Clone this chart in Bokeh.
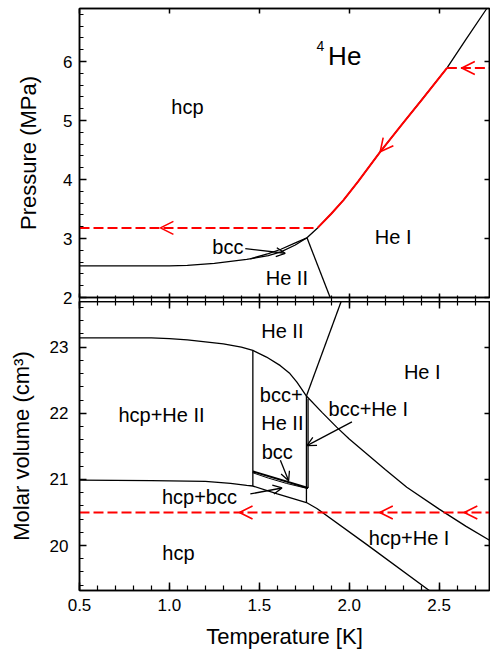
from bokeh.plotting import figure
from bokeh.models import Range1d, LinearAxis, FixedTicker, Arrow, OpenHead, PrintfTickFormatter
from bokeh.layouts import column
from bokeh.embed import file_html
from bokeh.resources import INLINE
from bokeh.core.properties import value

FONT = "Liberation Sans"

# ---------------- axis data ----------------
T_RANGE = (0.5, 2.78)
P_RANGE = (2.0, 6.9)
V_RANGE = (19.32, 23.69)
t_major = [0.5, 1.0, 1.5, 2.0, 2.5]
t_minor = [round(0.5 + 0.1 * i, 1) for i in range(23)]
p_major = [2, 3, 4, 5, 6]
p_minor = [round(2 + 0.2 * i, 1) for i in range(25)]
v_major = [20, 21, 22, 23]
v_minor = [round(19.4 + 0.2 * i, 1) for i in range(22)]

# ---------------- top panel: P-T ----------------
melt_T = [0.5, 1.0, 1.1, 1.25, 1.43, 1.55, 1.62, 1.70, 1.765, 1.824, 1.9, 1.968,
          2.05, 2.172, 2.3, 2.4, 2.543, 2.65, 2.765]
melt_P = [2.536, 2.537, 2.545, 2.577, 2.645, 2.71, 2.775, 2.89, 3.012, 3.18, 3.42, 3.65,
          3.97, 4.47, 4.96, 5.34, 5.89, 6.38, 6.9]
hcpbcc_T = [1.45, 1.55, 1.62, 1.70, 1.765]
hcpbcc_P = [2.656, 2.745, 2.818, 2.925, 3.012]
lam_top_T = [1.765, 1.894]
lam_top_P = [3.012, 2.0]
red_path_T = [1.824, 1.9, 1.968, 2.05, 2.172, 2.3, 2.4, 2.543]
red_path_P = [3.18, 3.42, 3.65, 3.97, 4.47, 4.96, 5.34, 5.89]
red_dash1_T = [0.5, 1.824]
red_dash1_P = [3.18, 3.18]
red_dash2_T = [2.543, 2.78]
red_dash2_P = [5.89, 5.89]

# ---------------- bottom panel: V-T ----------------
liq2_T = [0.5, 0.9, 1.0, 1.1, 1.2, 1.3, 1.4, 1.464, 1.54, 1.617, 1.67, 1.709, 1.762]
liq2_V = [23.14, 23.14, 23.13, 23.11, 23.08, 23.05, 23.00, 22.95, 22.85, 22.72, 22.60, 22.47, 22.26]
hcp_T = [0.5, 0.9, 1.2, 1.34, 1.43, 1.464, 1.6, 1.762, 1.82, 2.1, 2.445]
hcp_V = [20.99, 20.98, 20.97, 20.94, 20.91, 20.90, 20.78, 20.65, 20.56, 20.01, 19.32]
vert_T = [1.464, 1.762, 1.771]
vert_Vlow = [20.90, 20.65, 20.87]
vert_Vhigh = [22.95, 22.26, 22.22]
bccup_T = [1.464, 1.771]
bccup_V = [21.12, 20.87]
bcclow_T = [1.464, 1.55, 1.65, 1.771]
bcclow_V = [21.10, 21.02, 20.94, 20.86]
liq1_T = [1.762, 1.85, 1.93, 2.0, 2.1, 2.2, 2.32, 2.5, 2.65, 2.78]
liq1_V = [22.26, 22.01, 21.79, 21.61, 21.38, 21.15, 20.88, 20.55, 20.29, 20.08]
lam_bot_T = [1.762, 1.955]
lam_bot_V = [22.26, 23.69]
red_dash3_T = [0.5, 2.78]
red_dash3_V = [20.50, 20.50]
red_heads_bot_T = [1.39, 2.17, 2.64]


def base_fig(height, yr, mb_top, mb_bottom, transparent=False):
    fill = None if transparent else "white"
    p = figure(width=490, height=height, x_range=Range1d(*T_RANGE), y_range=Range1d(*yr),
               toolbar_location=None, output_backend="svg",
               min_border_left=79, min_border_right=1, min_border_top=mb_top,
               min_border_bottom=mb_bottom, outline_line_color="black",
               outline_line_width=1.5, background_fill_color=fill,
               border_fill_color=fill)
    p.grid.visible = False
    return p


def style(ax, labels, tin, tout, min_in, min_out, minor=True, size="17px", standoff=7):
    ax.axis_line_width = 1.5
    ax.axis_line_color = "black"
    ax.major_tick_line_width = 1.5
    ax.minor_tick_line_width = 1.2
    ax.major_tick_in = tin
    ax.major_tick_out = tout
    ax.minor_tick_in = min_in
    ax.minor_tick_out = min_out
    if not minor:
        ax.minor_tick_line_color = None
    if labels:
        ax.major_label_text_font = FONT
        ax.major_label_text_font_size = size
        ax.major_label_text_color = "black"
        ax.major_label_standoff = standoff
    else:
        ax.major_label_text_font_size = "0px"
        ax.major_label_text_color = None
        ax.major_label_standoff = 0
    ax.axis_label_text_font = FONT
    ax.axis_label_text_font_size = "22px"
    ax.axis_label_text_font_style = "normal"
    ax.axis_label_text_color = "black"


def red_head(p, x, y, xs, ys, size=13):
    p.add_layout(Arrow(end=OpenHead(size=size, line_color="red", line_width=1.6),
                       x_start=xs, y_start=ys, x_end=x, y_end=y, line_alpha=0))


def black_arrow(p, xs, ys, xe, ye):
    p.add_layout(Arrow(end=OpenHead(size=9, line_color="black", line_width=1.3),
                       x_start=xs, y_start=ys, x_end=xe, y_end=ye,
                       line_color="black", line_width=1.3))


def label(p, x, y, t, size="20px"):
    p.text(x=[x], y=[y], text=[t], text_font=value(FONT), text_font_size=size,
           text_align="center", text_baseline="middle", text_color="black")


# ================= top figure =================
p1 = base_fig(309, P_RANGE, 8, 12)
style(p1.xaxis[0], False, 4, 4, 2, 4)
p1.xaxis[0].ticker = FixedTicker(ticks=t_major, minor_ticks=t_minor)
style(p1.yaxis[0], True, 7, 0, 4, 0)
p1.yaxis[0].ticker = FixedTicker(ticks=p_major, minor_ticks=p_minor)
p1.yaxis[0].axis_label = "Pressure (MPa)"
p1.yaxis[0].axis_label_standoff = 19
top_ax = LinearAxis(ticker=FixedTicker(ticks=t_major))
style(top_ax, False, 5, 0, 0, 0, minor=False)
p1.add_layout(top_ax, "above")
right1 = LinearAxis(ticker=FixedTicker(ticks=p_major))
style(right1, False, 5, 0, 0, 0, minor=False)
p1.add_layout(right1, "right")

p1.line(melt_T, melt_P, line_color="black", line_width=1.3)
p1.line(hcpbcc_T, hcpbcc_P, line_color="black", line_width=1.3)
p1.line(lam_top_T, lam_top_P, line_color="black", line_width=1.3)
p1.line(red_path_T, red_path_P, line_color="red", line_width=2)
p1.line(red_dash1_T, red_dash1_P, line_color="red", line_width=2, line_dash="10 4")
p1.line(red_dash2_T, red_dash2_P, line_color="red", line_width=2, line_dash="10 4")
red_head(p1, 0.95, 3.18, 1.05, 3.18)
red_head(p1, 2.626, 5.89, 2.72, 5.89)
red_head(p1, red_path_T[4], red_path_P[4], red_path_T[5], red_path_P[5])
black_arrow(p1, 1.422, 2.83, 1.644, 2.75)

label(p1, 1.10, 5.23, "hcp")
label(p1, 1.975, 6.09, "He", "26px")
label(p1, 1.839, 6.27, "4", "14px")
label(p1, 2.244, 3.02, "He I")
label(p1, 1.653, 2.33, "He II")
label(p1, 1.325, 2.85, "bcc")

# ================= bottom figure =================
p2 = base_fig(355, V_RANGE, 0, 66, transparent=True)
p2.margin = (-8, 0, 0, 0)
style(p2.xaxis[0], True, 8, 0, 5, 0, standoff=8)
p2.xaxis[0].ticker = FixedTicker(ticks=t_major, minor_ticks=t_minor)
p2.xaxis[0].formatter = PrintfTickFormatter(format="%.1f")
p2.xaxis[0].axis_label = "Temperature [K]"
p2.xaxis[0].axis_label_standoff = 10
style(p2.yaxis[0], True, 7, 0, 4, 0, standoff=11)
p2.yaxis[0].ticker = FixedTicker(ticks=v_major, minor_ticks=v_minor)
p2.yaxis[0].axis_label = "Molar volume (cm³)"
p2.yaxis[0].axis_label_standoff = 13
top2 = LinearAxis(ticker=FixedTicker(ticks=t_major, minor_ticks=t_minor))
style(top2, False, 7, 0, 4, 0)
p2.add_layout(top2, "above")
right2 = LinearAxis(ticker=FixedTicker(ticks=v_major))
style(right2, False, 5, 0, 0, 0, minor=False)
p2.add_layout(right2, "right")

p2.line(liq2_T, liq2_V, line_color="black", line_width=1.3)
p2.line(hcp_T, hcp_V, line_color="black", line_width=1.3)
p2.segment(x0=vert_T, y0=vert_Vlow, x1=vert_T, y1=vert_Vhigh, line_color="black", line_width=1.3)
p2.line(bccup_T, bccup_V, line_color="black", line_width=2)
p2.line(bcclow_T, bcclow_V, line_color="black", line_width=1)
p2.line(liq1_T, liq1_V, line_color="black", line_width=1.3)
p2.line(lam_bot_T, lam_bot_V, line_color="black", line_width=1.3)
p2.line(red_dash3_T, red_dash3_V, line_color="red", line_width=2, line_dash="10 4")
for t in red_heads_bot_T:
    red_head(p2, t, red_dash3_V[0], t + 0.1, red_dash3_V[0])

black_arrow(p2, 2.015, 21.87, 1.765, 21.51)
black_arrow(p2, 1.617, 21.29, 1.663, 20.98)
black_arrow(p2, 1.45, 20.78, 1.626, 20.87)

label(p2, 1.628, 23.25, "He II")
label(p2, 2.406, 22.62, "He I")
label(p2, 1.622, 22.28, "bcc+")
label(p2, 1.628, 21.85, "He II")
label(p2, 2.106, 22.06, "bcc+He I")
label(p2, 1.600, 21.41, "bcc")
label(p2, 1.167, 20.73, "hcp+bcc")
label(p2, 0.956, 21.97, "hcp+He II")
label(p2, 1.05, 19.88, "hcp")
label(p2, 2.333, 20.12, "hcp+He I")

layout = column(p1, p2, spacing=0)
open("out.html", "w").write(file_html(layout, INLINE))
